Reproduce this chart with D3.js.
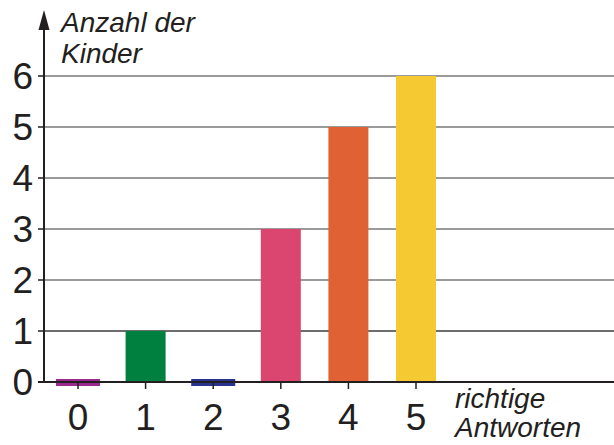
<!DOCTYPE html>
<html>
<head>
<meta charset="utf-8">
<script src="https://cdn.jsdelivr.net/npm/d3@7"></script>
<style>
body { margin: 0; background: #fff; }
text { font-family: "Liberation Sans", Arial, sans-serif; fill: #231f20; }
</style>
</head>
<body>
<script>
var categories = ["0", "1", "2", "3", "4", "5"];
var values = [0, 1, 0, 3, 5, 6];
var colors = ["#9c2a8c", "#00803f", "#27338c", "#da4670", "#e06234", "#f5c932"];
var yTicks = [0, 1, 2, 3, 4, 5, 6];

var width = 614,
    height = 445,
    axisX = 44,
    axisY = 382;

var svg = d3.select("body").append("svg")
    .attr("width", width)
    .attr("height", height);

var get_x = d3.scalePoint()
    .domain(categories)
    .range([78, 416]);

var get_y = d3.scaleLinear()
    .domain([0, 6])
    .range([axisY, 76]);

// gridlines
svg.selectAll(".grid")
    .data(yTicks.filter(function(d) { return d > 0; }))
    .enter().append("line")
    .attr("class", "grid")
    .attr("x1", axisX)
    .attr("x2", width)
    .attr("y1", function(d) { return get_y(d); })
    .attr("y2", function(d) { return get_y(d); })
    .attr("stroke", function(d) { return d == 1 ? "#6d6d6d" : "#9a9a9a"; })
    .attr("stroke-width", 2);

// bars (zero values get a thin strip on the axis)
var barW = 40, zeroW = 44;
svg.selectAll(".bar")
    .data(values)
    .enter().append("rect")
    .attr("class", "bar")
    .attr("x", function(d, i) { return get_x(categories[i]) - (d == 0 ? zeroW : barW) / 2; })
    .attr("width", function(d) { return d == 0 ? zeroW : barW; })
    .attr("y", function(d) { return d == 0 ? axisY - 3 : get_y(d); })
    .attr("height", function(d) { return d == 0 ? 7 : axisY - get_y(d); })
    .attr("fill", function(d, i) { return colors[i]; });

// x axis line + ticks
svg.append("line")
    .attr("x1", 38).attr("x2", width)
    .attr("y1", axisY).attr("y2", axisY)
    .attr("stroke", "#231f20").attr("stroke-width", 2);

svg.selectAll(".xtick")
    .data(categories)
    .enter().append("line")
    .attr("x1", function(d) { return get_x(d); })
    .attr("x2", function(d) { return get_x(d); })
    .attr("y1", axisY).attr("y2", axisY + 7)
    .attr("stroke", "#231f20").attr("stroke-width", 1.5);

svg.selectAll(".xlabel")
    .data(categories)
    .enter().append("text")
    .attr("x", function(d) { return get_x(d); })
    .attr("y", 430)
    .attr("text-anchor", "middle")
    .attr("font-size", 37)
    .text(function(d) { return d; });

// y axis line + arrow + ticks
svg.append("line")
    .attr("x1", axisX).attr("x2", axisX)
    .attr("y1", 26).attr("y2", axisY + 1)
    .attr("stroke", "#231f20").attr("stroke-width", 2);

svg.append("path")
    .attr("d", "M" + axisX + ",10 L" + (axisX - 5.5) + ",30 L" + (axisX + 5.5) + ",30 Z")
    .attr("fill", "#231f20");

svg.selectAll(".ytick")
    .data(yTicks)
    .enter().append("line")
    .attr("x1", 38).attr("x2", axisX)
    .attr("y1", function(d) { return get_y(d); })
    .attr("y2", function(d) { return get_y(d); })
    .attr("stroke", "#231f20").attr("stroke-width", 1.5);

svg.selectAll(".ylabel")
    .data(yTicks)
    .enter().append("text")
    .attr("x", 33)
    .attr("y", function(d) { return get_y(d) + 13; })
    .attr("text-anchor", "end")
    .attr("font-size", 37)
    .text(function(d) { return d; });

// axis titles
var yTitle = svg.append("text")
    .attr("font-size", 28)
    .attr("font-style", "italic");
yTitle.append("tspan").attr("x", 61).attr("y", 32).text("Anzahl der");
yTitle.append("tspan").attr("x", 61).attr("y", 63).text("Kinder");

var xTitle = svg.append("text")
    .attr("font-size", 28)
    .attr("font-style", "italic");
xTitle.append("tspan").attr("x", 455).attr("y", 408).text("richtige");
xTitle.append("tspan").attr("x", 455).attr("y", 437).text("Antworten");
</script>
</body>
</html>
